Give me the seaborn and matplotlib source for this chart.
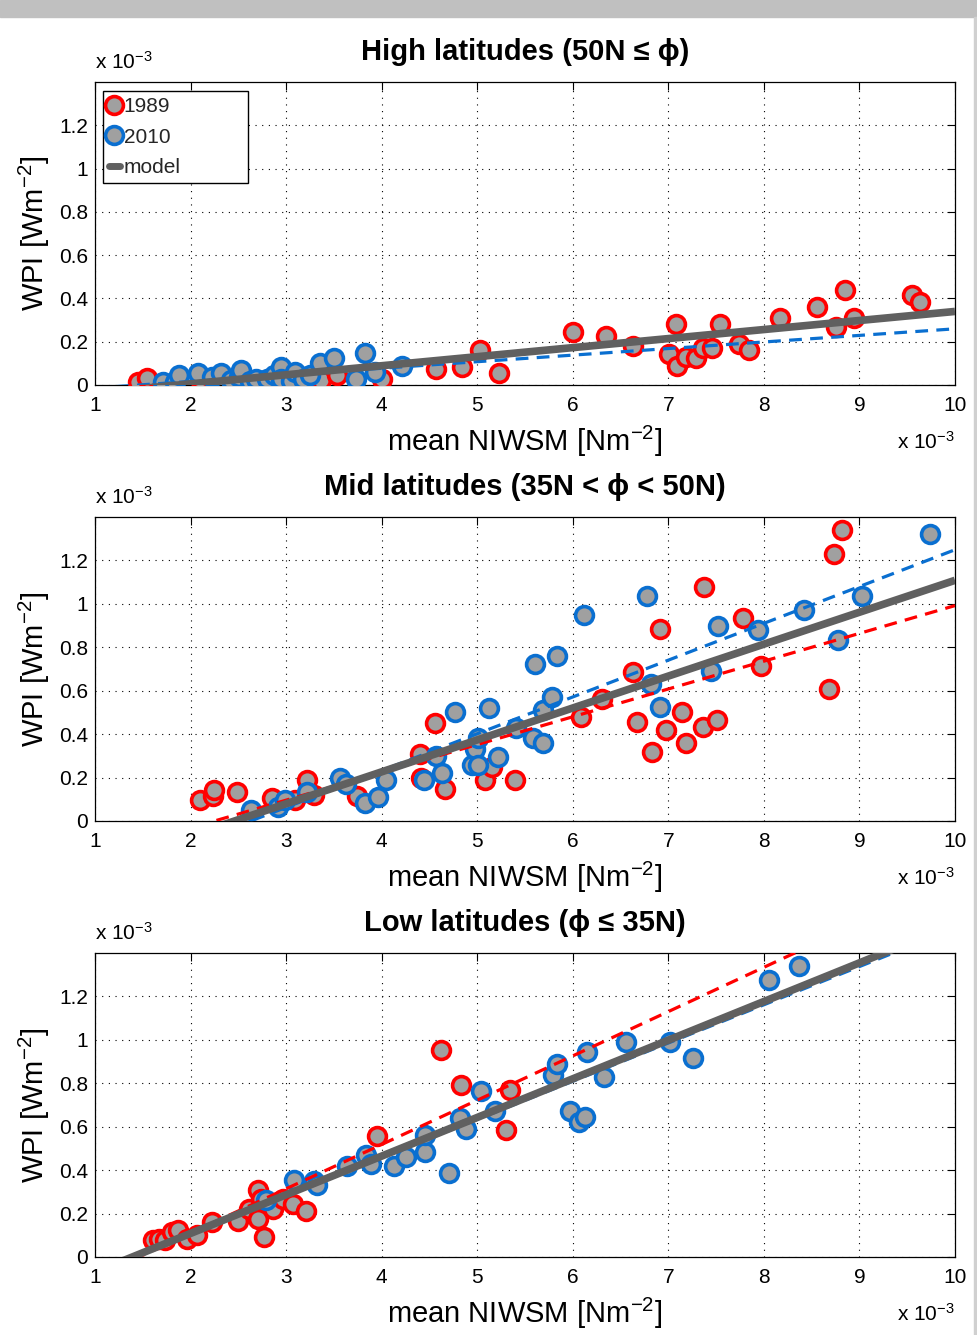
import numpy as np
import matplotlib
matplotlib.use("Agg")
import matplotlib.pyplot as plt
import seaborn as sns
from matplotlib.lines import Line2D
from matplotlib.patches import Rectangle

# ---------------- data (values in units of 1e-3) ----------------
hi_x_1989 = [1.45, 1.54, 2.10, 2.67, 3.37, 3.53, 4.00, 4.57, 4.84, 5.03, 5.23, 6.00, 6.35, 6.63,
             7.08, 7.01, 7.09, 7.19, 7.29, 7.36, 7.46, 7.54, 7.74, 7.84, 8.17, 8.56, 8.85, 8.75,
             8.94, 9.55, 9.63]
hi_y_1989 = [0.015, 0.034, 0.030, 0.010, 0.023, 0.046, 0.030, 0.072, 0.084, 0.160, 0.054, 0.243,
             0.226, 0.180, 0.280, 0.143, 0.087, 0.130, 0.123, 0.170, 0.170, 0.280, 0.190, 0.160,
             0.310, 0.360, 0.440, 0.270, 0.310, 0.415, 0.384]
hi_x_2010 = [1.71, 1.84, 1.88, 2.08, 2.22, 2.32, 2.42, 2.51, 2.53, 2.62, 2.68, 2.80, 2.87, 2.95,
             2.95, 3.05, 3.09, 3.18, 3.25, 3.35, 3.50, 3.73, 3.83, 3.93, 4.21]
hi_y_2010 = [0.015, 0.015, 0.046, 0.054, 0.038, 0.054, 0.025, 0.038, 0.069, 0.020, 0.030, 0.030,
             0.045, 0.084, 0.030, 0.020, 0.061, 0.030, 0.045, 0.100, 0.123, 0.030, 0.146, 0.061,
             0.087]

mid_x_1989 = [2.10, 2.23, 2.25, 2.49, 2.85, 3.09, 3.22, 3.29, 3.74, 4.40, 4.41, 4.56, 4.66, 5.08,
              5.15, 5.40, 6.09, 6.31, 6.63, 6.67, 6.83, 6.91, 6.98, 7.14, 7.18, 7.36, 7.37, 7.51,
              7.78, 7.97, 8.68, 8.73, 8.82]
mid_y_1989 = [0.097, 0.115, 0.143, 0.135, 0.104, 0.097, 0.190, 0.120, 0.115, 0.310, 0.196, 0.450,
              0.146, 0.190, 0.250, 0.190, 0.477, 0.564, 0.684, 0.457, 0.319, 0.884, 0.418, 0.500,
              0.357, 0.434, 1.077, 0.464, 0.936, 0.713, 0.610, 1.230, 1.338]
mid_x_2010 = [2.63, 2.92, 2.99, 3.22, 3.56, 3.63, 3.83, 3.96, 4.05, 4.44, 4.57, 4.63, 4.77, 4.95,
              4.98, 5.01, 5.01, 5.12, 5.22, 5.41, 5.58, 5.60, 5.69, 5.69, 5.78, 5.83, 6.12, 6.78,
              6.82, 6.91, 7.45, 7.52, 7.94, 8.42, 8.78, 9.03, 9.74]
mid_y_2010 = [0.050, 0.066, 0.097, 0.135, 0.196, 0.170, 0.081, 0.112, 0.190, 0.190, 0.300, 0.222,
              0.503, 0.257, 0.330, 0.380, 0.257, 0.520, 0.296, 0.426, 0.380, 0.722, 0.357, 0.510,
              0.572, 0.760, 0.950, 1.034, 0.630, 0.526, 0.690, 0.900, 0.878, 0.970, 0.835, 1.034,
              1.323]

lo_x_1989 = [1.61, 1.67, 1.73, 1.81, 1.87, 1.96, 2.07, 2.22, 2.50, 2.61, 2.71, 2.74, 2.71, 2.77,
             2.86, 2.97, 3.07, 3.21, 3.95, 4.62, 4.83, 5.30, 5.34]
lo_y_1989 = [0.077, 0.084, 0.077, 0.115, 0.123, 0.084, 0.100, 0.161, 0.164, 0.223, 0.307, 0.269,
             0.174, 0.092, 0.223, 0.269, 0.246, 0.210, 0.558, 0.955, 0.791, 0.584, 0.768]
lo_x_2010 = [2.79, 3.08, 3.29, 3.32, 3.64, 3.84, 3.89, 4.13, 4.25, 4.45, 4.45, 4.70, 4.82, 4.88,
             5.04, 5.19, 5.79, 5.84, 5.97, 6.07, 6.13, 6.15, 6.33, 6.56, 7.02, 7.26, 8.05, 8.37]
lo_y_2010 = [0.261, 0.356, 0.349, 0.330, 0.419, 0.472, 0.430, 0.419, 0.460, 0.484, 0.564, 0.387,
             0.640, 0.588, 0.765, 0.673, 0.840, 0.891, 0.673, 0.622, 0.645, 0.945, 0.829, 0.988,
             0.988, 0.917, 1.275, 1.339]

# linear fits: (x-intercept, slope)
hi_fit_1989, hi_fit_2010, hi_fit_model = (1.80, 0.0410), (1.46, 0.0304), (1.87, 0.0418)
mid_fit_1989, mid_fit_2010, mid_fit_model = (2.25, 0.128), (2.63, 0.1695), (2.46, 0.147)
lo_fit_1989, lo_fit_2010, lo_fit_model = (1.46, 0.204), (1.40, 0.176), (1.39, 0.178)

titles = ["High latitudes (50N \u2264 \u03d5)",
          "Mid latitudes (35N < \u03d5 < 50N)",
          "Low latitudes (\u03d5 \u2264 35N)"]
x_ticks = [1, 2, 3, 4, 5, 6, 7, 8, 9, 10]
y_ticks = [0, 0.2, 0.4, 0.6, 0.8, 1.0, 1.2]
y_ticklabels = ["0", "0.2", "0.4", "0.6", "0.8", "1", "1.2"]
legend_labels = ["1989", "2010", "model"]

# ---------------- style ----------------
sns.set_theme(style="white")
plt.rcParams["font.family"] = ["Liberation Sans", "DejaVu Sans"]
plt.rcParams["mathtext.fontset"] = "custom"
plt.rcParams["mathtext.rm"] = "Liberation Sans"
plt.rcParams["mathtext.it"] = "Liberation Sans:italic"
plt.rcParams["mathtext.bf"] = "Liberation Sans:bold"
plt.rcParams["mathtext.default"] = "regular"

RED = "#ff0000"
BLUE = "#0a6fd0"
FILL = "#a0a0a0"
GRAY = "#606060"

W, H = 977, 1335
fig = plt.figure(figsize=(W / 100, H / 100), dpi=100)
fig.patch.set_facecolor("white")

# gray top band & right edge like the screenshot
fig.patches.append(Rectangle((0, 1 - 17 / H), 1, 17 / H, transform=fig.transFigure,
                             color="#c0c0c0", zorder=0))
fig.patches.append(Rectangle((974 / W, 0), 3 / W, 1 - 17 / H, transform=fig.transFigure,
                             color="#d0d0d0", zorder=0))

panels = [
    (385, 82, hi_x_1989, hi_y_1989, hi_x_2010, hi_y_2010, hi_fit_1989, hi_fit_2010, hi_fit_model),
    (821, 517, mid_x_1989, mid_y_1989, mid_x_2010, mid_y_2010, mid_fit_1989, mid_fit_2010, mid_fit_model),
    (1257, 953, lo_x_1989, lo_y_1989, lo_x_2010, lo_y_2010, lo_fit_1989, lo_fit_2010, lo_fit_model),
]

MS2 = 165   # scatter size (pt^2)
MEW = 2.6

left_px, right_px = 95, 955
for i, (bot, top, x89, y89, x10, y10, f89, f10, fm) in enumerate(panels):
    ax = fig.add_axes([left_px / W, 1 - bot / H, (right_px - left_px) / W, (bot - top) / H])
    ax.set_facecolor("white")

    sns.scatterplot(x=x89, y=y89, ax=ax, s=MS2, color=FILL, edgecolor=RED, linewidth=MEW,
                    zorder=3, legend=False)
    sns.scatterplot(x=x10, y=y10, ax=ax, s=MS2, color=FILL, edgecolor=BLUE, linewidth=MEW,
                    zorder=4, legend=False)

    xl = np.array([1.0, 10.0])
    ax.plot(xl, f89[1] * (xl - f89[0]), color=RED, lw=2.3, ls=(0, (4, 2.6)), zorder=5)
    ax.plot(xl, f10[1] * (xl - f10[0]), color=BLUE, lw=2.3, ls=(0, (4, 2.6)), zorder=6)
    ax.plot(xl, fm[1] * (xl - fm[0]), color=GRAY, lw=5.5, solid_capstyle="butt", zorder=7)

    ax.set_xlim(1, 10)
    ax.set_ylim(0, 1.4)
    ax.set_xticks(x_ticks)
    ax.set_xticklabels([str(t) for t in x_ticks])
    ax.set_yticks(y_ticks)
    ax.set_yticklabels(y_ticklabels)
    ax.grid(True, color="black", linestyle=(0, (1, 5)), linewidth=0.8)
    ax.set_axisbelow(True)
    ax.tick_params(direction="in", top=True, right=True, length=6, width=0.8,
                   labelsize=15, colors="black")
    ax.tick_params(axis="x", pad=8)
    ax.tick_params(axis="y", pad=5)
    for sp in ax.spines.values():
        sp.set_color("black")
        sp.set_linewidth(0.9)

    ax.set_xlabel("mean NIWSM [Nm$^{-2}$]", fontsize=21, labelpad=6, color="black")
    ax.set_ylabel("WPI [Wm$^{-2}$]", fontsize=21, labelpad=5, color="black")
    ax.set_title(titles[i], fontsize=21, fontweight="bold", pad=16, color="black")

    ax.text(0.0, 1.03, "x 10$^{-3}$", transform=ax.transAxes, ha="left", va="bottom",
            fontsize=15, color="black")
    ax.text(1.0, -0.21, "x 10$^{-3}$", transform=ax.transAxes, ha="right", va="baseline",
            fontsize=15, color="black")

    if i == 0:
        ms = np.sqrt(MS2)
        handles = [
            Line2D([], [], ls="", marker="o", ms=ms, mfc=FILL, mec=RED, mew=MEW),
            Line2D([], [], ls="", marker="o", ms=ms, mfc=FILL, mec=BLUE, mew=MEW),
            Line2D([], [], color=GRAY, lw=5),
        ]
        leg = ax.legend(handles, legend_labels, loc="upper left",
                        bbox_to_anchor=(8 / 860, 0, 145 / 860, 1 - 9 / 303), mode="expand",
                        borderaxespad=0, fontsize=15, frameon=True, fancybox=False,
                        edgecolor="black", framealpha=1, handlelength=0.5,
                        handletextpad=0.2, borderpad=0.3, labelspacing=0.55)
        leg.get_frame().set_linewidth(1.0)
        leg.set_zorder(10)

fig.savefig("out.png", dpi=100, facecolor="white")
